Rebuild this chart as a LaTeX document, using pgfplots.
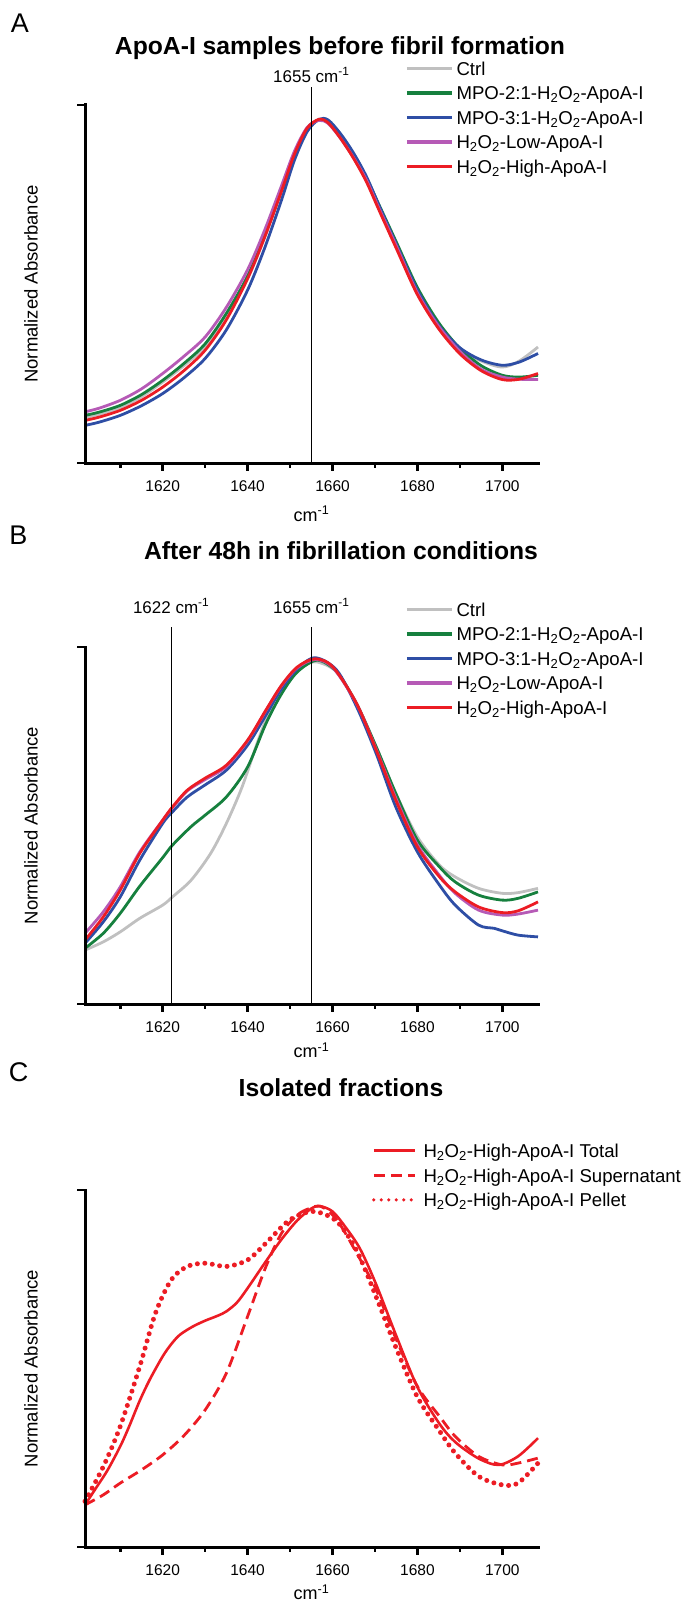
\documentclass[border=0pt]{standalone}
\usepackage{fontspec}
\setmainfont{Liberation Sans}
\usepackage{pgfplots}
\usepackage{pgfplotstable}
\pgfplotsset{compat=1.18}

\definecolor{cgray}{RGB}{192,192,192}
\definecolor{cgreen}{RGB}{22,128,62}
\definecolor{cblue}{RGB}{46,78,165}
\definecolor{cmag}{RGB}{182,90,182}
\definecolor{cred}{RGB}{236,28,36}

\pgfplotstableread{
x ctrl mpo2 mpo3 low high
1601.7 0.127 0.133 0.105 0.143 0.119
1605 0.136 0.142 0.114 0.153 0.128
1610 0.155 0.161 0.133 0.175 0.147
1615 0.185 0.191 0.160 0.207 0.175
1620 0.226 0.231 0.194 0.250 0.212
1625 0.272 0.278 0.238 0.298 0.258
1630 0.325 0.333 0.292 0.352 0.315
1635 0.410 0.418 0.372 0.435 0.400
1640 0.515 0.522 0.483 0.540 0.515
1644 0.630 0.636 0.600 0.650 0.630
1648 0.760 0.762 0.735 0.775 0.760
1651 0.862 0.862 0.845 0.870 0.862
1654 0.935 0.934 0.925 0.937 0.935
1656.8 0.958 0.958 0.960 0.957 0.960
1659 0.950 0.950 0.958 0.948 0.950
1662 0.908 0.910 0.918 0.905 0.905
1665 0.855 0.858 0.865 0.852 0.850
1668 0.790 0.796 0.800 0.790 0.785
1671 0.712 0.720 0.718 0.710 0.705
1675 0.608 0.618 0.612 0.607 0.600
1680 0.475 0.490 0.483 0.475 0.470
1685 0.382 0.392 0.385 0.382 0.375
1690 0.318 0.320 0.322 0.312 0.305
1695 0.285 0.272 0.288 0.262 0.258
1700 0.268 0.245 0.273 0.240 0.233
1704 0.285 0.240 0.282 0.234 0.234
1708.4 0.324 0.245 0.306 0.233 0.250
}\dataA

\pgfplotsset{
  panel/.style={
    scale only axis, width=453pt, height=358pt,
    xmin=1601.7, xmax=1708.4, ymin=0, ymax=1,
    axis x line=bottom, axis y line=left,
    axis line style={-, black},
    xtick={1620,1640,...,1700}, minor xtick={1610,1630,...,1690},
    ytick={0,1}, yticklabels={},
    tick align=outside, major tick length=8pt, minor tick length=5pt,
    tick style={black},
    xticklabel style={font=\fontsize{15.5}{18}\selectfont, yshift=-6pt},
    /pgf/number format/1000 sep={},
    /pgf/number format/assume math mode=true,
    clip=false,
    unbounded coords=jump,
    every axis plot/.append style={line width=2.8pt, smooth, tension=0.5},
    ylabel={Normalized Absorbance},
    ylabel style={at={(rel axis cs:-0.1192,0.5)}, anchor=center, font=\fontsize{18.5}{22}\selectfont},
    xlabel={cm\textsuperscript{-1}},
    xlabel style={font=\fontsize{18}{22}\selectfont, anchor=center},
    legend cell align=left,
    legend style={draw=none, fill=none, inner sep=0pt, outer sep=0pt,
      row sep=6.6pt, column sep=3pt, anchor=north west,
      font=\fontsize{18.6}{22}\selectfont,
      nodes={inner sep=0pt, text height=13pt, text depth=5pt},
      cells={anchor=base west}},
    legend image code/.code={\draw[#1, line width=3.5pt] (0pt,6.7pt) -- (45pt,6.7pt);},
  },
  vline/.style={forget plot, black, line width=1.3pt, sharp plot},
  frame/.style={forget plot, black, line width=3pt, sharp plot, line cap=rect, line join=miter},
  tk/.style={forget plot, black, line width=2.6pt, sharp plot, line cap=butt},
}

\begin{document}
\begin{tikzpicture}
\path[use as bounding box] (0pt,0pt) rectangle (681pt,-1605pt);

% ---------- Panel A ----------
\begin{axis}[panel, at={(85pt,-463pt)}, anchor=south west,
  xlabel style={at={(rel axis cs:0.5,-0.142)}},
  legend style={at={(rel axis cs:0.7064,1.1201)}}]
\addplot[cgray] table[x=x,y=ctrl] {\dataA};
\addlegendentry{Ctrl}
\addplot[cgreen] table[x=x,y=mpo2] {\dataA};
\addlegendentry{MPO-2:1-H\textsubscript{2}O\textsubscript{2}-ApoA-I}
\addplot[cblue] table[x=x,y=mpo3] {\dataA};
\addlegendentry{MPO-3:1-H\textsubscript{2}O\textsubscript{2}-ApoA-I}
\addplot[cmag] table[x=x,y=low] {\dataA};
\addlegendentry{H\textsubscript{2}O\textsubscript{2}-Low-ApoA-I}
\addplot[cred] table[x=x,y=high] {\dataA};
\addlegendentry{H\textsubscript{2}O\textsubscript{2}-High-ApoA-I}
\addplot[vline] coordinates {(1655,0) (1655,1.050)};
\addplot[frame] coordinates {(1601.7,1) (1601.7,0) (1708.4,0)};
\addplot[tk] coordinates {(1620,0) (1620,-0.0223) (1620,nan) (1640,0) (1640,-0.0223) (1640,nan) (1660,0) (1660,-0.0223) (1660,nan) (1680,0) (1680,-0.0223) (1680,nan) (1700,0) (1700,-0.0223)};
\addplot[tk] coordinates {(1610,0) (1610,-0.014) (1610,nan) (1630,0) (1630,-0.014) (1630,nan) (1650,0) (1650,-0.014) (1650,nan) (1670,0) (1670,-0.014) (1670,nan) (1690,0) (1690,-0.014)};
\addplot[tk] coordinates {(1601.7,1) (1599.8,1)};
\addplot[tk] coordinates {(1601.7,0) (1599.8,0)};
\node[font=\fontsize{17}{20}\selectfont] at (axis cs:1655,1.0838) {1655 cm\textsuperscript{-1}};
\end{axis}

% ---------- Panel B ----------
\begin{axis}[panel, at={(85pt,-1004pt)}, anchor=south west, height=357pt,
  xlabel style={at={(rel axis cs:0.5,-0.13)}},
  legend style={at={(rel axis cs:0.7064,1.1232)}}]
\addplot[cgray] coordinates {(1601.7,0.151) (1606.0,0.174) (1610,0.202) (1614.6,0.240) (1620,0.277) (1622.3,0.300) (1626.7,0.347) (1631.3,0.422) (1635,0.506) (1638.7,0.608) (1642.5,0.739) (1646.2,0.851) (1649.9,0.916) (1653.6,0.949) (1656.4,0.958) (1661,0.930) (1665.7,0.841) (1670.3,0.720) (1674.9,0.590) (1680,0.468) (1685.2,0.389) (1688.9,0.356) (1694.4,0.324) (1700,0.310) (1703.7,0.312) (1708.4,0.324)};
\addlegendentry{Ctrl}
\addplot[cgreen] coordinates {(1601.7,0.156) (1606.0,0.198) (1610,0.254) (1614.6,0.330) (1620,0.410) (1622.3,0.445) (1626.7,0.497) (1630,0.529) (1635,0.580) (1640,0.664) (1644.3,0.785) (1648,0.869) (1651.7,0.930) (1656.4,0.963) (1661,0.930) (1665.7,0.840) (1670.3,0.720) (1674.9,0.590) (1680,0.459) (1685.2,0.384) (1688.9,0.342) (1694.4,0.305) (1700,0.291) (1703.7,0.296) (1708.4,0.314)};
\addlegendentry{MPO-2:1-H\textsubscript{2}O\textsubscript{2}-ApoA-I}
\addplot[cblue] coordinates {(1601.7,0.170) (1606.0,0.230) (1610,0.300) (1614.6,0.403) (1620,0.506) (1622.3,0.538) (1625.8,0.580) (1629.9,0.613) (1635,0.655) (1640,0.725) (1644.3,0.809) (1648,0.883) (1651.7,0.939) (1655.9,0.970) (1661,0.935) (1665.7,0.832) (1670.3,0.701) (1674.9,0.552) (1680,0.426) (1685.2,0.333) (1688.9,0.277) (1694.4,0.221) (1698.1,0.212) (1700,0.205) (1703.7,0.193) (1708.4,0.188)};
\addlegendentry{MPO-3:1-H\textsubscript{2}O\textsubscript{2}-ApoA-I}
\addplot[cmag] coordinates {(1601.7,0.198) (1606.0,0.258) (1610,0.328) (1614.6,0.426) (1620,0.515) (1622.3,0.550) (1625.8,0.597) (1629.9,0.628) (1635,0.665) (1640,0.737) (1644.3,0.822) (1648,0.892) (1651.7,0.942) (1655.9,0.965) (1660.1,0.942) (1665.7,0.840) (1670.3,0.713) (1674.9,0.577) (1680,0.446) (1685.2,0.360) (1688.9,0.310) (1694.4,0.263) (1700,0.249) (1703.7,0.252) (1708.4,0.263)};
\addlegendentry{H\textsubscript{2}O\textsubscript{2}-Low-ApoA-I}
\addplot[cred] coordinates {(1601.7,0.179) (1606.0,0.244) (1610,0.319) (1614.6,0.422) (1620,0.515) (1622.3,0.552) (1625.8,0.599) (1629.9,0.632) (1635,0.669) (1640,0.739) (1644.3,0.823) (1648,0.893) (1651.7,0.944) (1655.9,0.967) (1660.1,0.944) (1665.7,0.841) (1670.3,0.711) (1674.9,0.571) (1680,0.440) (1685.2,0.356) (1688.9,0.314) (1694.4,0.272) (1700,0.256) (1703.7,0.261) (1708.4,0.286)};
\addlegendentry{H\textsubscript{2}O\textsubscript{2}-High-ApoA-I}
\addplot[vline] coordinates {(1622,0) (1622,1.056)};
\addplot[vline] coordinates {(1655,0) (1655,1.056)};
\addplot[frame] coordinates {(1601.7,1) (1601.7,0) (1708.4,0)};
\addplot[tk] coordinates {(1620,0) (1620,-0.0224) (1620,nan) (1640,0) (1640,-0.0224) (1640,nan) (1660,0) (1660,-0.0224) (1660,nan) (1680,0) (1680,-0.0224) (1680,nan) (1700,0) (1700,-0.0224)};
\addplot[tk] coordinates {(1610,0) (1610,-0.014) (1610,nan) (1630,0) (1630,-0.014) (1630,nan) (1650,0) (1650,-0.014) (1650,nan) (1670,0) (1670,-0.014) (1670,nan) (1690,0) (1690,-0.014)};
\addplot[tk] coordinates {(1601.7,1) (1599.8,1)};
\addplot[tk] coordinates {(1601.7,0) (1599.8,0)};
\node[font=\fontsize{17}{20}\selectfont] at (axis cs:1622,1.1148) {1622 cm\textsuperscript{-1}};
\node[font=\fontsize{17}{20}\selectfont] at (axis cs:1655,1.1148) {1655 cm\textsuperscript{-1}};
\end{axis}

% ---------- Panel C ----------
\begin{axis}[panel, at={(85pt,-1547pt)}, anchor=south west, height=357pt,
  xlabel style={at={(rel axis cs:0.5,-0.127)}},
  legend style={at={(rel axis cs:0.6336,1.1277)}, column sep=7pt},
  legend image code/.code={\draw[#1, line width=3.5pt] (0pt,6.7pt) -- (41pt,6.7pt);}]
\addplot[cred, line width=2.6pt] coordinates {(1601.7,0.118) (1604,0.160) (1607,0.215) (1610,0.282) (1612,0.335) (1614.6,0.410) (1617,0.470) (1620,0.534) (1622,0.568) (1624,0.594) (1627,0.617) (1630,0.634) (1633,0.648) (1635,0.660) (1637.5,0.685) (1640,0.725) (1644.3,0.800) (1648,0.862) (1651.7,0.915) (1655,0.948) (1657,0.955) (1660,0.940) (1663,0.897) (1666.5,0.835) (1670.3,0.735) (1674.9,0.595) (1680,0.448) (1685.2,0.345) (1689,0.293) (1694.4,0.248) (1699.1,0.230) (1703.7,0.254) (1708.4,0.305)};
\addlegendentry{H\textsubscript{2}O\textsubscript{2}-High-ApoA-I Total}
\addplot[cred, line width=2.8pt, dash pattern=on 11pt off 6pt] coordinates {(1601.7,0.118) (1606,0.146) (1610,0.179) (1615,0.216) (1620,0.258) (1625,0.312) (1630,0.384) (1635,0.487) (1640,0.646) (1644.3,0.785) (1648,0.879) (1651.7,0.930) (1654.5,0.948) (1657.3,0.954) (1661,0.917) (1665.7,0.823) (1670.3,0.720) (1674.9,0.585) (1680,0.450) (1685.2,0.366) (1688.9,0.310) (1694.4,0.254) (1700,0.230) (1703.7,0.235) (1708.4,0.249)};
\addlegendentry{H\textsubscript{2}O\textsubscript{2}-High-ApoA-I Supernatant}
\addplot[cred, line width=5pt, line cap=round, dash pattern=on 0pt off 7.5pt] coordinates {(1601.7,0.128) (1606,0.225) (1610,0.338) (1614.6,0.506) (1618.3,0.655) (1622,0.748) (1625.8,0.786) (1630,0.795) (1635,0.786) (1640,0.804) (1644.3,0.851) (1649.9,0.916) (1655.5,0.940) (1661,0.912) (1665.7,0.830) (1670.3,0.700) (1674.9,0.560) (1680,0.420) (1685.2,0.325) (1688.9,0.263) (1694.4,0.198) (1700,0.174) (1703.7,0.179) (1708.4,0.235)};
\addlegendentry{H\textsubscript{2}O\textsubscript{2}-High-ApoA-I Pellet}
\addplot[frame] coordinates {(1601.7,1) (1601.7,0) (1708.4,0)};
\addplot[tk] coordinates {(1620,0) (1620,-0.0224) (1620,nan) (1640,0) (1640,-0.0224) (1640,nan) (1660,0) (1660,-0.0224) (1660,nan) (1680,0) (1680,-0.0224) (1680,nan) (1700,0) (1700,-0.0224)};
\addplot[tk] coordinates {(1610,0) (1610,-0.014) (1610,nan) (1630,0) (1630,-0.014) (1630,nan) (1650,0) (1650,-0.014) (1650,nan) (1670,0) (1670,-0.014) (1670,nan) (1690,0) (1690,-0.014)};
\addplot[tk] coordinates {(1601.7,1) (1599.8,1)};
\addplot[tk] coordinates {(1601.7,0) (1599.8,0)};
\end{axis}

% ---------- titles and panel letters ----------
\node[font=\fontsize{27}{32}\selectfont] at (20pt,-23pt) {A};
\node[font=\fontsize{24.7}{29}\selectfont\bfseries] at (340pt,-48pt) {ApoA-I samples before fibril formation};
\node[font=\fontsize{27}{32}\selectfont] at (18.5pt,-535.6pt) {B};
\node[font=\fontsize{24.7}{29}\selectfont\bfseries] at (341pt,-551pt) {After 48h in fibrillation conditions};
\node[font=\fontsize{27}{32}\selectfont] at (18.5pt,-1072pt) {C};
\node[font=\fontsize{24.7}{29}\selectfont\bfseries] at (341pt,-1088pt) {Isolated fractions};
\end{tikzpicture}
\end{document}
